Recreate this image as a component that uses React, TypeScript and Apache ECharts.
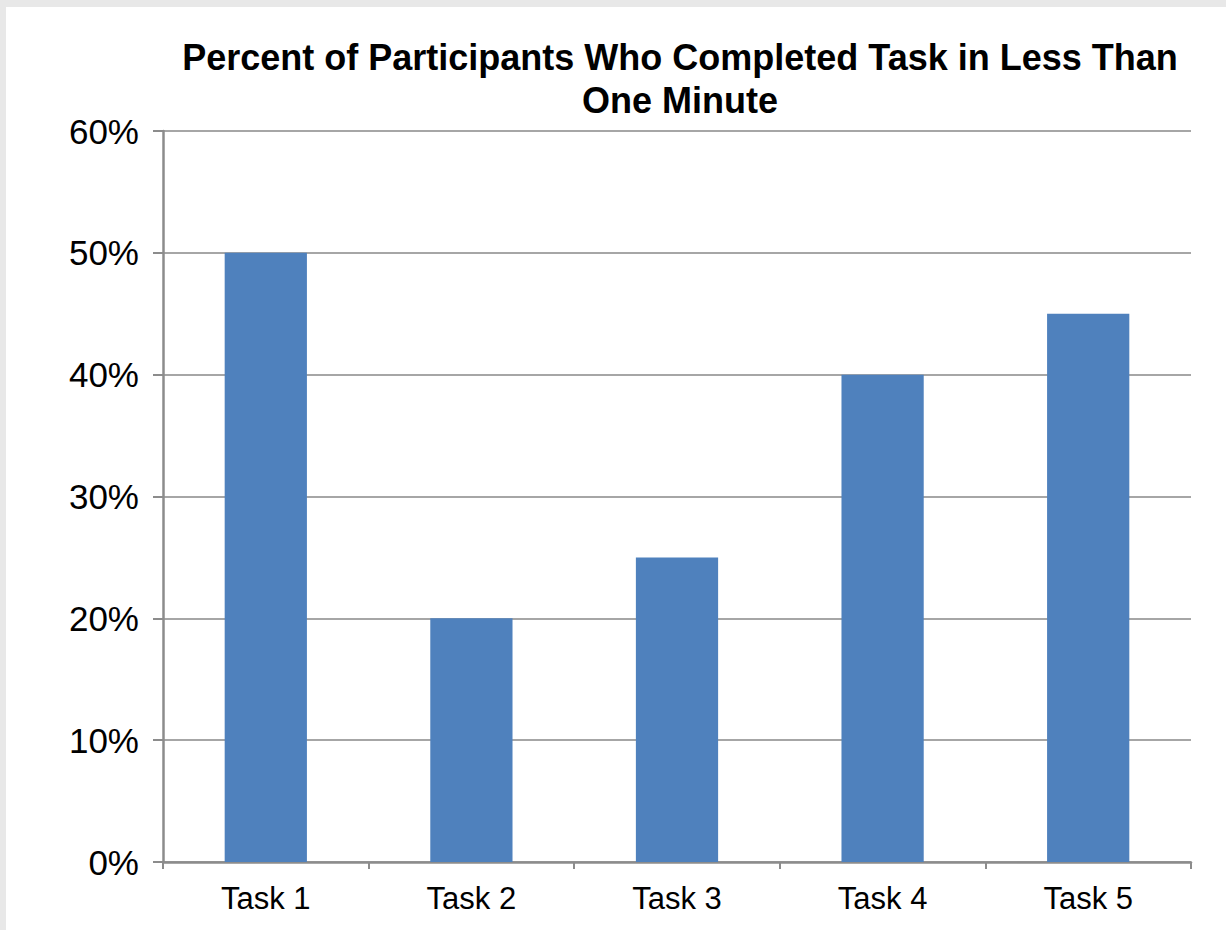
import React, { useEffect, useRef } from "react";
import * as echarts from "echarts";

const categories = ["Task 1", "Task 2", "Task 3", "Task 4", "Task 5"];
const values = [50, 20, 25, 40, 45];
const titleText = "Percent of Participants Who Completed Task in Less Than\nOne Minute";

export default function App() {
  const ref = useRef<HTMLDivElement>(null);
  useEffect(() => {
    if (!ref.current) return;
    const chart = echarts.init(ref.current, null, { renderer: "svg" });
    chart.setOption({
      animation: false,
      backgroundColor: "#ffffff",
      title: {
        text: titleText,
        left: 669,
        top: 24,
        textAlign: "center",
        textStyle: {
          fontFamily: "Liberation Sans, Arial, sans-serif",
          fontSize: 36,
          fontWeight: "bold",
          color: "#000000",
          lineHeight: 43,
        },
      },
      grid: { left: 157, top: 124, right: 35, bottom: 68, containLabel: false },
      xAxis: {
        type: "category",
        data: categories,
        axisLine: { lineStyle: { color: "#8c8c8c", width: 2.5 } },
        axisTick: { show: true, length: 7, lineStyle: { color: "#8c8c8c", width: 2 } },
        axisLabel: {
          margin: 21,
          fontFamily: "Liberation Sans, Arial, sans-serif",
          fontSize: 31,
          color: "#000000",
        },
      },
      yAxis: {
        type: "value",
        min: 0,
        max: 60,
        interval: 10,
        axisLine: { show: true, lineStyle: { color: "#8c8c8c", width: 2.5 } },
        axisTick: { show: true, length: 10, lineStyle: { color: "#8c8c8c", width: 2 } },
        splitLine: { show: true, lineStyle: { color: "#a6a6a6", width: 2 } },
        axisLabel: {
          margin: 24,
          formatter: "{value}%",
          fontFamily: "Liberation Sans, Arial, sans-serif",
          fontSize: 35,
          color: "#000000",
        },
      },
      series: [
        {
          type: "bar",
          data: values,
          barWidth: "40%",
          itemStyle: { color: "#4f81bd" },
        },
      ],
    });
    return () => chart.dispose();
  }, []);
  return (
    <div style={{ position: "fixed", left: 0, top: 0, width: 1226, height: 930, background: "#e8e8e8" }}>
      <div ref={ref} style={{ position: "absolute", left: 6, top: 7, width: 1220, height: 923 }} />
    </div>
  );
}
